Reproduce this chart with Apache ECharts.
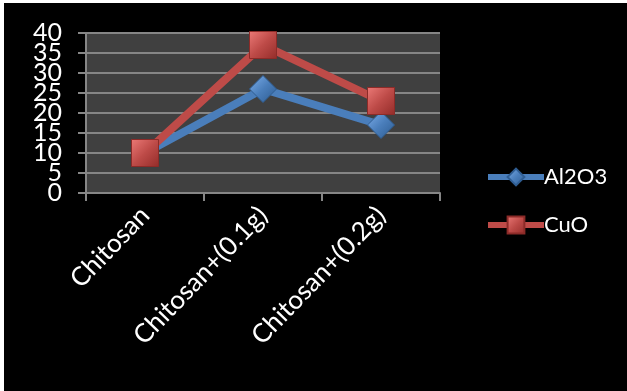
<!DOCTYPE html>
<html>
<head>
<meta charset="utf-8">
<script src="https://cdn.jsdelivr.net/npm/echarts@6/dist/echarts.min.js"></script>
<style>
  html, body { margin: 0; padding: 0; background: #ffffff; }
  #frame { position: absolute; left: 4px; top: 3px; width: 623px; height: 388px; background: #000000; }
  #chart { position: absolute; left: -4px; top: -3px; width: 627px; height: 391px; }
</style>
</head>
<body>
<div id="frame"><div id="chart"></div></div>
<script>
// Sample categories and measured values
const categories = ['Chitosan', 'Chitosan+(0.1g)', 'Chitosan+(0.2g)'];
const al2o3 = [10, 26, 17];
const cuo = [10, 37, 23];
const yTicks = { min: 0, max: 40, step: 5 };

const FONT = 'Lato';
const blue = '#4a7ebb';
const red = '#be4b48';

const chart = echarts.init(document.getElementById('chart'));

function bevel(base, light, dark) {
  return new echarts.graphic.LinearGradient(0, 0, 1, 1, [
    { offset: 0, color: light },
    { offset: 0.5, color: base },
    { offset: 1, color: dark }
  ]);
}

// The large tick labels are tightly packed, so alternate ticks are
// carried by two overlaid value axes sharing the same scale.
function yLabel(parity) {
  return {
    color: '#ffffff', fontSize: 25, margin: 24, fontFamily: FONT,
    showMinLabel: true, showMaxLabel: true,
    formatter: v => (Math.round(v / yTicks.step) % 2 === parity ? String(v) : '')
  };
}

chart.setOption({
  backgroundColor: 'transparent',
  animation: false,
  textStyle: { fontFamily: FONT },
  grid: {
    left: 86, right: 187, top: 33, bottom: 198,
    show: true, backgroundColor: '#404040', borderWidth: 0
  },
  legend: {
    orient: 'vertical',
    left: 480, top: 161,
    itemWidth: 56, itemHeight: 21, itemGap: 26,
    textStyle: { color: '#ffffff', fontSize: 22, fontFamily: FONT, padding: [0, 0, 0, -5] },
    data: [
      { name: 'Al2O3', lineStyle: { width: 6 } },
      { name: 'CuO', lineStyle: { width: 6 } }
    ]
  },
  xAxis: {
    type: 'category',
    data: categories,
    boundaryGap: true,
    axisLine: { show: true, lineStyle: { color: '#868686', width: 2 } },
    axisTick: { show: true, length: 8, lineStyle: { color: '#868686', width: 2 } },
    axisLabel: { color: '#ffffff', fontSize: 26, rotate: 46, margin: 18, fontFamily: FONT }
  },
  yAxis: [
    {
      type: 'value',
      min: yTicks.min, max: yTicks.max, interval: yTicks.step,
      axisLine: { show: true, lineStyle: { color: '#868686', width: 2 } },
      axisTick: { show: true, length: 8, lineStyle: { color: '#868686', width: 2 } },
      axisLabel: yLabel(0),
      splitLine: { show: true, lineStyle: { color: '#868686', width: 2 } }
    },
    {
      type: 'value', position: 'left',
      min: yTicks.min, max: yTicks.max, interval: yTicks.step,
      axisLine: { show: false }, axisTick: { show: false }, splitLine: { show: false },
      axisLabel: yLabel(1)
    }
  ],
  series: [
    {
      name: 'Al2O3', type: 'line', data: al2o3, yAxisIndex: 0,
      symbol: 'diamond', symbolSize: 27,
      lineStyle: { color: blue, width: 8 },
      itemStyle: { color: bevel(blue, '#7fb0ec', '#2c5a8f'), borderColor: '#2f5d92', borderWidth: 1 },
      z: 2
    },
    {
      name: 'CuO', type: 'line', data: cuo, yAxisIndex: 0,
      symbol: 'rect', symbolSize: 27,
      lineStyle: { color: red, width: 8 },
      itemStyle: { color: bevel(red, '#ec7a77', '#932c29'), borderColor: '#8c2b28', borderWidth: 1 },
      z: 3
    }
  ]
});
</script>
</body>
</html>
